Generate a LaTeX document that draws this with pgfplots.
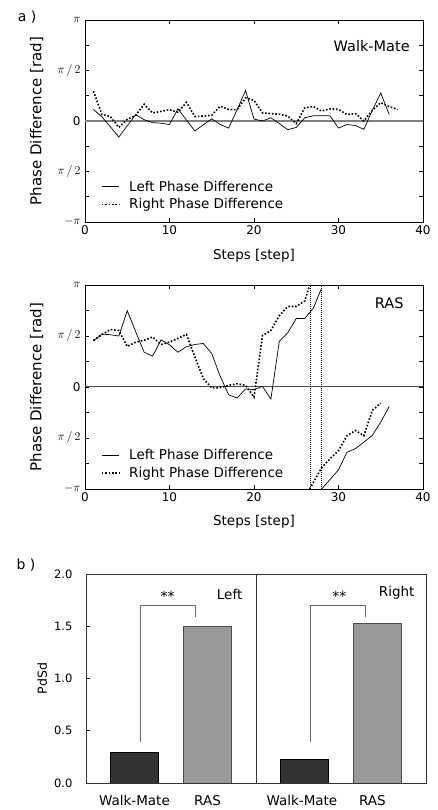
\documentclass[border=0pt]{standalone}
\usepackage{pgfplots}
\pgfplotsset{compat=1.18}
\usepackage{fontspec}
\setmainfont{DejaVu Sans}

\pgfplotstableread{
x y
1 0.36
2 0.13
3 -0.18
4 -0.50
5 -0.15
6 0.20
7 0.04
8 -0.05
9 -0.07
10 -0.11
11 0.38
12 0.03
13 -0.31
14 -0.12
15 0.07
16 -0.11
17 -0.22
18 0.35
19 0.95
20 0.06
21 0.00
22 0.10
23 -0.08
24 -0.27
25 -0.20
26 0.10
27 0.16
28 0.16
29 0.16
30 -0.22
31 -0.11
32 -0.14
33 -0.26
34 0.33
35 0.87
36 0.20
}\wmleft

\pgfplotstableread{
x y
1 0.93
2 0.20
3 0.14
4 -0.20
5 0.05
6 0.18
7 0.52
8 0.25
9 0.30
10 0.35
11 0.27
12 0.58
13 0.14
14 0.15
15 0.18
16 0.46
17 0.36
18 0.35
19 0.72
20 0.64
21 0.25
22 0.23
23 0.21
24 0.15
25 -0.08
26 0.41
27 0.45
28 0.31
29 0.38
30 0.36
31 0.20
32 0.23
33 0.00
34 0.33
35 0.57
36 0.45
37 0.36
}\wmright

\pgfplotstableread{
x y
1 1.42
2 1.63
3 1.61
4 1.57
5 2.35
6 1.70
7 1.07
8 0.95
9 1.45
10 1.30
11 1.07
12 1.24
13 1.31
14 1.34
15 1.03
16 0.33
17 -0.24
18 -0.34
19 -0.06
20 -0.08
21 0.02
22 -0.37
23 1.41
24 1.67
25 2.11
26 2.11
27 2.42
28 3.04
}\rasleftA

\pgfplotstableread{
x y
28 -3.14
29 -2.85
30 -2.55
31 -2.01
32 -1.90
33 -1.70
34 -1.49
35 -1.08
36 -0.60
}\rasleftB

\pgfplotstableread{
x y
1 1.44
2 1.61
3 1.77
4 1.74
5 1.25
6 1.38
7 1.44
8 1.54
9 1.31
10 1.38
11 1.50
12 1.62
13 0.93
14 0.26
15 -0.03
16 -0.02
17 0.05
18 0.10
19 0.05
20 -0.31
21 1.58
22 1.74
23 2.20
24 2.48
25 2.48
26 2.65
26.6 3.14
}\rasrightA

\pgfplotstableread{
x y
26.6 -3.14
28 -2.49
29 -2.21
30 -1.96
31 -1.50
32 -1.34
33 -1.50
34 -0.72
35 -0.50
}\rasrightB

\begin{document}
\begin{tikzpicture}
\useasboundingbox (0pt,0pt) rectangle (437pt,810pt);

\pgfplotsset{
  phase/.style={
    scale only axis, width=338pt,
    xmin=0, xmax=40, ymin=-3.14159, ymax=3.14159,
    xtick={0,10,20,30,40}, xticklabels={0,10,20,30,40},
    ytick={-3.14159,-1.5708,0,1.5708,3.14159},
    yticklabels={$-\pi$,$\pi\,/\,2$,0,$\pi\,/\,2$,$\pi$},
    minor ytick={-2.35619,-0.785398,0.785398,2.35619},
    tick align=inside, major tick length=4pt, minor tick length=4pt,
    every tick/.style={black, line width=0.6pt},
    axis line style={line width=0.8pt},
    ticklabel style={font=\fontsize{12}{14}\selectfont},
    yticklabel style={xshift=-1pt},
    xlabel={Steps [step]}, ylabel={Phase Difference [rad]},
    xlabel style={font=\fontsize{13.5}{15}\selectfont, anchor=center},
    ylabel style={font=\fontsize{15}{17}\selectfont, anchor=center, at={(axis description cs:-0.143,0.5)}},
    legend style={draw=none, fill=none, font=\fontsize{13.5}{15}\selectfont,
      anchor=north west, nodes={inner sep=1.5pt}, row sep=3pt, column sep=8pt},
    legend cell align=left,
  },
  lft/.style={black, line width=0.7pt, no marks},
  rgt/.style={black, line width=1.6pt, dash pattern=on 1.6pt off 1.8pt, no marks},
}

% ---- a) Walk-Mate
\begin{axis}[phase, height=202pt, at={(85pt,588pt)}, anchor=south west,
  xlabel style={at={(axis description cs:0.5,-0.168)}},
  legend style={at={(axis description cs:0.038,0.222)}}]
\addplot[black!50, line width=1.2pt, forget plot] coordinates {(0,0) (40,0)};
\addplot[lft] table[x=x,y=y] {\wmleft};
\addlegendentry{Left Phase Difference}
\addplot[rgt] table[x=x,y=y] {\wmright};
\addlegendentry{Right Phase Difference}
\node[anchor=east, font=\fontsize{14.5}{16}\selectfont] at (axis description cs:0.971,0.873) {Walk-Mate};
\end{axis}

% ---- RAS
\begin{axis}[phase, height=204pt, at={(85pt,321pt)}, anchor=south west,
  xlabel style={at={(axis description cs:0.5,-0.160)}},
  legend style={at={(axis description cs:0.038,0.212)}}]
\addplot[black!70, line width=1.0pt, forget plot] coordinates {(0,0) (40,0)};
\addplot[black, line width=0.5pt, dash pattern=on 1pt off 1pt, forget plot] coordinates {(26.6,-3.1416) (26.6,3.1416)};
\addplot[black, line width=0.5pt, dash pattern=on 1pt off 1pt, forget plot] coordinates {(28,-3.1416) (28,3.1416)};
\addplot[lft] table[x=x,y=y] {\rasleftA};
\addlegendentry{Left Phase Difference}
\addplot[rgt] table[x=x,y=y] {\rasrightA};
\addlegendentry{Right Phase Difference}
\addplot[lft, forget plot] table[x=x,y=y] {\rasleftB};
\addplot[rgt, forget plot] table[x=x,y=y] {\rasrightB};
\node[anchor=east, font=\fontsize{14.5}{16}\selectfont] at (axis description cs:0.953,0.910) {RAS};
\end{axis}

% ---- b) PdSd
\begin{axis}[scale only axis, width=340pt, height=209pt, at={(86pt,27pt)}, anchor=south west,
  xmin=0, xmax=4, ymin=0, ymax=2,
  ytick={0,0.5,1,1.5,2}, yticklabels={0.0,0.5,1.0,1.5,2.0},
  ytick pos=left, tick align=inside, major tick length=4pt,
  every tick/.style={black, line width=0.6pt},
  xtick={0.57,1.43,2.54,3.37}, xticklabels={Walk-Mate,RAS,Walk-Mate,RAS},
  x tick style={draw=none},
  axis line style={black!80, line width=0.8pt},
  yticklabel style={font=\fontsize{11.5}{13}\selectfont, xshift=-10pt},
  xticklabel style={font=\fontsize{13.5}{15}\selectfont, yshift=-9pt},
  ylabel={PdSd},
  ylabel style={font=\fontsize{12.5}{14}\selectfont, anchor=center, at={(axis description cs:-0.129,0.5)}},
]
\addplot[black!80, line width=0.7pt] coordinates {(2,0) (2,2)};
\addplot[ybar, bar width=0.57, bar shift=0pt, fill=black!80, draw=black, line width=0.8pt] coordinates {(0.57,0.296) (2.57,0.222)};
\addplot[ybar, bar width=0.57, bar shift=0pt, fill=black!40, draw=black!70, line width=0.8pt] coordinates {(1.43,1.494) (3.43,1.529)};
\addplot[black!60, line width=0.8pt] coordinates {(0.64,0.39) (0.64,1.70) (1.29,1.70) (1.29,1.59)};
\addplot[black!60, line width=0.8pt] coordinates {(2.64,0.39) (2.64,1.70) (3.29,1.70) (3.29,1.59)};
\node[font=\fontsize{14}{16}\selectfont] at (axis cs:0.96,1.79) {**};
\node[font=\fontsize{14}{16}\selectfont] at (axis cs:2.98,1.79) {**};
\node[font=\fontsize{13.5}{15}\selectfont] at (axis cs:1.69,1.80) {Left};
\node[font=\fontsize{13.5}{15}\selectfont] at (axis cs:3.655,1.82) {Right};
\end{axis}

\node[font=\fontsize{14}{16}\selectfont] at (27pt,793pt) {a )};
\node[font=\fontsize{14}{16}\selectfont] at (26pt,245pt) {b )};
\end{tikzpicture}
\end{document}
